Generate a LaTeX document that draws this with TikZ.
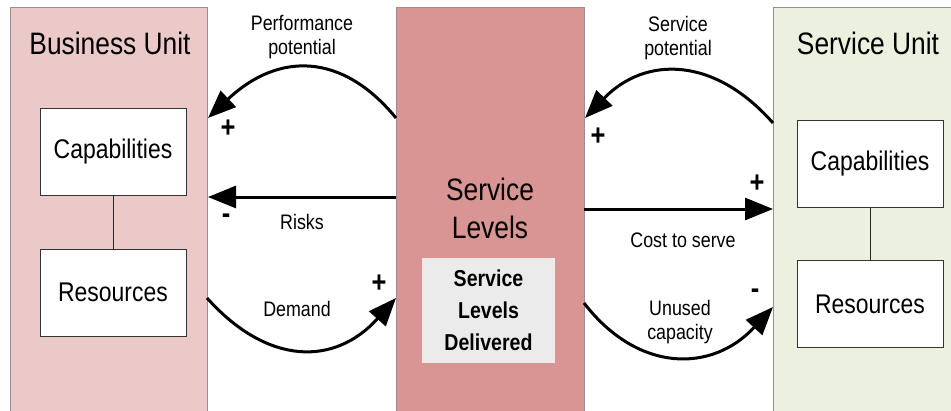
\documentclass[tikz,border=0pt]{standalone}
\usepackage{fontspec}
\setmainfont[FakeStretch=0.85]{Liberation Sans}
\usetikzlibrary{arrows.meta}
\definecolor{lpink}{HTML}{EBC9C8}
\definecolor{mred}{HTML}{D99594}
\definecolor{lgreen}{HTML}{EBF0DF}
\definecolor{lgray}{HTML}{EBEBEB}
\definecolor{edgegray}{HTML}{9A8F8F}
\tikzset{
  panel/.style={draw=edgegray, line width=0.8pt, anchor=north west, inner sep=0pt},
  ibox/.style={draw=black!80, line width=0.8pt, fill=white, minimum width=146pt, minimum height=87pt, inner sep=0pt,
    font=\fontsize{27}{30}\selectfont},
  title/.style={font=\fontsize{31}{34}\selectfont, inner sep=0pt},
  lbl/.style={font=\fontsize{21}{24}\selectfont, align=center, inner sep=0pt},
  sign/.style={font=\bfseries\fontsize{30}{30}\selectfont, inner sep=0pt},
  flow/.style={line width=3pt, -{Triangle[length=28pt,width=22pt]}},
  link/.style={line width=0.9pt, draw=black!85}
}
\begin{document}
\begin{tikzpicture}[x=1pt,y=-1pt]
\useasboundingbox (0,0) rectangle (951,410);
% panels
\node[panel, fill=lpink, minimum width=197pt, minimum height=420pt] (bu) at (10,7) {};
\node[panel, fill=mred, minimum width=188pt, minimum height=420pt] (sl) at (396,7) {};
\node[panel, fill=lgreen, minimum width=200pt, minimum height=420pt] (su) at (773,7) {};
% titles
\node[title] (butitle) at (110,43) {Business Unit};
\node[title] (sutitle) at (868,43) {Service Unit};
\node[title, align=center, font=\fontsize{31}{38}\selectfont] (sltitle) at (490,208) {Service\\Levels};
% inner boxes
\node[ibox] (bcap) at (113,151.5) {Capabilities};
\node[ibox] (bres) at (113,292.5) {Resources};
\node[ibox] (scap) at (870,164) {Capabilities};
\node[ibox] (sres) at (870,304) {Resources};
\draw[link] (bcap) -- (bres);
\draw[link] (scap) -- (sres);
\node[fill=lgray, minimum width=133pt, minimum height=105pt, inner sep=0pt, align=center,
  font=\bfseries\fontsize{23}{32}\selectfont] (sld) at (488.5,310.5) {Service\\Levels\\Delivered};
% connector end points
\coordinate (pp1) at (396,118);
\coordinate (pp2) at (208,118);
\coordinate (rk1) at (396,197);
\coordinate (rk2) at (208,197);
\coordinate (dm1) at (207,298);
\coordinate (dm2) at (396,298);
\coordinate (sp1) at (773,123);
\coordinate (sp2) at (585,118);
\coordinate (cs1) at (584,209);
\coordinate (cs2) at (773,209);
\coordinate (uc1) at (584,303);
\coordinate (uc2) at (773,307);
% connectors
\draw[flow] (pp1) .. controls (342,52) and (278,52) .. (pp2);
\draw[flow] (rk1) -- (rk2);
\draw[flow] (dm1) .. controls (268,366) and (335,366) .. (dm2);
\draw[flow] (sp1) .. controls (714,56) and (645,56) .. (sp2);
\draw[flow] (cs1) -- (cs2);
\draw[flow] (uc1) .. controls (638,373) and (712,373) .. (uc2);
% labels
\node[lbl] (lpp) at (302,37) {Performance\\potential};
\node[lbl] (lrk) at (302,222) {Risks};
\node[lbl] (ldm) at (297,309) {Demand};
\node[lbl] (lsp) at (678,38) {Service\\potential};
\node[lbl] (lcs) at (683,240) {Cost to serve};
\node[lbl] (luc) at (680,322) {Unused\\capacity};
% signs
\node[sign] (s1) at (228,129) {+};
\node[sign] (s2) at (226,219) {-};
\node[sign] (s3) at (379,284) {+};
\node[sign] (s4) at (598,137) {+};
\node[sign] (s5) at (757,184) {+};
\node[sign] (s6) at (755,294) {-};
\end{tikzpicture}
\end{document}
